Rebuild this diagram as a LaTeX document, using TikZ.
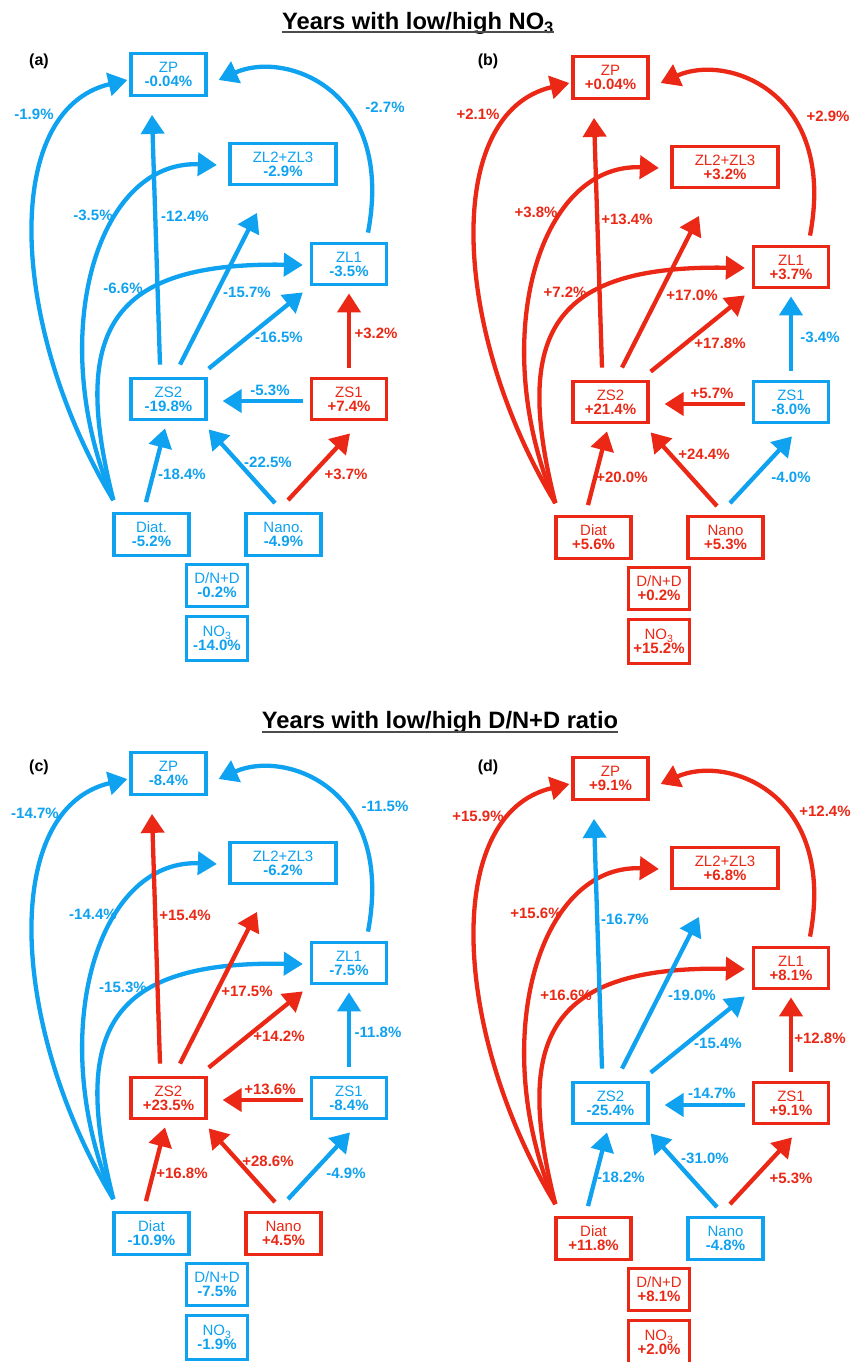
\documentclass[tikz,border=0pt]{standalone}
\usepackage{fontspec}
\setmainfont{Liberation Sans}
\usetikzlibrary{arrows.meta}
\definecolor{cb}{RGB}{14,162,240}
\definecolor{cr}{RGB}{235,40,22}
\tikzset{
  bx/.style={draw=#1, text=#1, line width=3.3pt, align=center, inner sep=0pt,
    minimum height=41.5pt, font=\fontsize{15}{14}\selectfont},
  wbox/.style={minimum width=106pt},
  mbox/.style={minimum width=75pt},
  sbox/.style={minimum width=61pt},
  arr/.style={draw=#1, line width=4.3pt, -{Triangle[length=19pt,width=23pt]}},
  elab/.style={text=#1, inner sep=0pt, font=\fontsize{15}{15}\bfseries\selectfont},
  plab/.style={inner sep=0pt, font=\fontsize{16}{16}\bfseries\selectfont},
  ttl/.style={inner sep=0pt, font=\fontsize{23.7}{24}\bfseries\selectfont},
  uline/.style={line width=1.6pt, draw=black!70},
}
\begin{document}
\begin{tikzpicture}[x=1pt,y=-1pt]
\path[use as bounding box, fill=white] (0,0) rectangle (857,1362);

% headings
\node[ttl, anchor=base] (t1) at (418,29.3) {Years with low/high NO\textsubscript{3}};
\draw[uline] ([yshift=-3pt]t1.base west) -- ([yshift=-3pt]t1.base east);
\node[ttl, anchor=base] (t2) at (440,728.7) {Years with low/high D/N+D ratio};
\draw[uline] ([yshift=-3pt]t2.base west) -- ([yshift=-3pt]t2.base east);

% ---------------- panel (a)
\begin{scope}
\node[plab] (a-tag) at (39,61) {(a)};
\node[bx=cb, mbox] (a-ZP) at (168.5,74.5) {ZP\\\textbf{-0.04\%}};
\node[bx=cb, wbox] (a-ZL23) at (283,164) {ZL2+ZL3\\\textbf{-2.9\%}};
\node[bx=cb, mbox] (a-ZL1) at (349,264) {ZL1\\\textbf{-3.5\%}};
\node[bx=cb, mbox] (a-ZS2) at (168.5,399) {ZS2\\\textbf{-19.8\%}};
\node[bx=cr, mbox] (a-ZS1) at (349,399) {ZS1\\\textbf{+7.4\%}};
\node[bx=cb, mbox] (a-Diat) at (151.5,534.5) {Diat.\\\textbf{-5.2\%}};
\node[bx=cb, mbox] (a-Nano) at (283.5,534.5) {Nano.\\\textbf{-4.9\%}};
\node[bx=cb, sbox] (a-DN) at (217,585.5) {D/N+D\\\textbf{-0.2\%}};
\node[bx=cb, sbox, minimum height=43.5pt] (a-NO) at (217,638.5) {NO\textsubscript{3}\\\textbf{-14.0\%}};
\draw[arr=cb] ([xshift=1pt,yshift=12pt]a-Diat.north west) .. controls +(-103,-170) and +(-128,30) .. ([xshift=-2pt,yshift=-5.5pt]a-ZP.west);
\draw[arr=cb] ([xshift=1pt,yshift=12pt]a-Diat.north west) .. controls +(-68,-160) and +(-122,-5) .. ([xshift=-11.5pt,yshift=-1pt]a-ZL23.west);
\draw[arr=cb] ([xshift=1pt,yshift=12pt]a-Diat.north west) .. controls +(-43,-170) and +(-193,-3) .. ([xshift=-7pt,yshift=-1pt]a-ZL1.west);
\draw[arr=cb] ([xshift=-8.5pt,yshift=12pt]a-ZS2.north) -- ([xshift=-16.5pt,yshift=-18pt]a-ZP.south);
\draw[arr=cb] ([xshift=11.5pt,yshift=12pt]a-ZS2.north) -- ([xshift=-26pt,yshift=-26.5pt]a-ZL23.south);
\draw[arr=cb] ([xshift=1pt,yshift=8pt]a-ZS2.north east) -- ([xshift=-7pt,yshift=-6pt]a-ZL1.south west);
\draw[arr=cb] ([xshift=19pt,yshift=9pt]a-ZL1.north) .. controls +(27,-143) and +(67,-30) .. ([xshift=11pt,yshift=-5.5pt]a-ZP.east);
\draw[arr=cr] ([yshift=9pt]a-ZS1.north) -- ([yshift=-7pt]a-ZL1.south);
\draw[arr=cb] ([xshift=-7pt,yshift=-2pt]a-ZS1.west) -- ([xshift=15pt,yshift=-2pt]a-ZS2.east);
\draw[arr=cb] ([xshift=-5.5pt,yshift=10pt]a-Diat.north) -- ([xshift=-3.5pt,yshift=-7pt]a-ZS2.south);
\draw[arr=cb] ([xshift=-8.5pt,yshift=9pt]a-Nano.north) -- ([xshift=1pt,yshift=-8pt]a-ZS2.south east);
\draw[arr=cr] ([xshift=4.5pt,yshift=12pt]a-Nano.north) -- ([xshift=1pt,yshift=-12pt]a-ZS1.south);
\node[elab=cb] (a-l1) at (34,114) {-1.9\%};
\node[elab=cb] (a-l2) at (93,215) {-3.5\%};
\node[elab=cb] (a-l3) at (123,288) {-6.6\%};
\node[elab=cb] (a-l4) at (185,216) {-12.4\%};
\node[elab=cb] (a-l5) at (247,292) {-15.7\%};
\node[elab=cb] (a-l6) at (279,337) {-16.5\%};
\node[elab=cb] (a-l7) at (385,107) {-2.7\%};
\node[elab=cr] (a-l8) at (376,333) {+3.2\%};
\node[elab=cb] (a-l9) at (270,390) {-5.3\%};
\node[elab=cb] (a-l10) at (182,474) {-18.4\%};
\node[elab=cb] (a-l11) at (268,462) {-22.5\%};
\node[elab=cr] (a-l12) at (346,474) {+3.7\%};
\end{scope}

% ---------------- panel (b)
\begin{scope}[shift={(442,3)}]
\node[plab] (b-tag) at (46,58) {(b)};
\node[bx=cr, mbox] (b-ZP) at (168.5,74.5) {ZP\\\textbf{+0.04\%}};
\node[bx=cr, wbox] (b-ZL23) at (283,164) {ZL2+ZL3\\\textbf{+3.2\%}};
\node[bx=cr, mbox] (b-ZL1) at (349,264) {ZL1\\\textbf{+3.7\%}};
\node[bx=cr, mbox] (b-ZS2) at (168.5,399) {ZS2\\\textbf{+21.4\%}};
\node[bx=cb, mbox] (b-ZS1) at (349,399) {ZS1\\\textbf{-8.0\%}};
\node[bx=cr, mbox] (b-Diat) at (151.5,534.5) {Diat\\\textbf{+5.6\%}};
\node[bx=cr, mbox] (b-Nano) at (283.5,534.5) {Nano\\\textbf{+5.3\%}};
\node[bx=cr, sbox] (b-DN) at (217,585.5) {D/N+D\\\textbf{+0.2\%}};
\node[bx=cr, sbox, minimum height=43.5pt] (b-NO) at (217,638.5) {NO\textsubscript{3}\\\textbf{+15.2\%}};
\draw[arr=cr] ([xshift=1pt,yshift=12pt]b-Diat.north west) .. controls +(-103,-170) and +(-128,30) .. ([xshift=-2pt,yshift=-5.5pt]b-ZP.west);
\draw[arr=cr] ([xshift=1pt,yshift=12pt]b-Diat.north west) .. controls +(-68,-160) and +(-122,-5) .. ([xshift=-11.5pt,yshift=-1pt]b-ZL23.west);
\draw[arr=cr] ([xshift=1pt,yshift=12pt]b-Diat.north west) .. controls +(-43,-170) and +(-193,-3) .. ([xshift=-7pt,yshift=-1pt]b-ZL1.west);
\draw[arr=cr] ([xshift=-8.5pt,yshift=12pt]b-ZS2.north) -- ([xshift=-16.5pt,yshift=-18pt]b-ZP.south);
\draw[arr=cr] ([xshift=11.5pt,yshift=12pt]b-ZS2.north) -- ([xshift=-26pt,yshift=-26.5pt]b-ZL23.south);
\draw[arr=cr] ([xshift=1pt,yshift=8pt]b-ZS2.north east) -- ([xshift=-7pt,yshift=-6pt]b-ZL1.south west);
\draw[arr=cr] ([xshift=19pt,yshift=9pt]b-ZL1.north) .. controls +(27,-143) and +(67,-30) .. ([xshift=11pt,yshift=-5.5pt]b-ZP.east);
\draw[arr=cb] ([yshift=9pt]b-ZS1.north) -- ([yshift=-7pt]b-ZL1.south);
\draw[arr=cr] ([xshift=-7pt,yshift=-2pt]b-ZS1.west) -- ([xshift=15pt,yshift=-2pt]b-ZS2.east);
\draw[arr=cr] ([xshift=-5.5pt,yshift=10pt]b-Diat.north) -- ([xshift=-3.5pt,yshift=-7pt]b-ZS2.south);
\draw[arr=cr] ([xshift=-8.5pt,yshift=9pt]b-Nano.north) -- ([xshift=1pt,yshift=-8pt]b-ZS2.south east);
\draw[arr=cb] ([xshift=4.5pt,yshift=12pt]b-Nano.north) -- ([xshift=1pt,yshift=-12pt]b-ZS1.south);
\node[elab=cr] (b-l1) at (36,111) {+2.1\%};
\node[elab=cr] (b-l2) at (94,209) {+3.8\%};
\node[elab=cr] (b-l3) at (123,289) {+7.2\%};
\node[elab=cr] (b-l4) at (185,216) {+13.4\%};
\node[elab=cr] (b-l5) at (250,292) {+17.0\%};
\node[elab=cr] (b-l6) at (278,340) {+17.8\%};
\node[elab=cr] (b-l7) at (386,113) {+2.9\%};
\node[elab=cb] (b-l8) at (378,334) {-3.4\%};
\node[elab=cr] (b-l9) at (270,390) {+5.7\%};
\node[elab=cr] (b-l10) at (180,474) {+20.0\%};
\node[elab=cr] (b-l11) at (262,451) {+24.4\%};
\node[elab=cb] (b-l12) at (349,474) {-4.0\%};
\end{scope}

% ---------------- panel (c)
\begin{scope}[shift={(0,699)}]
\node[plab] (c-tag) at (39,68) {(c)};
\node[bx=cb, mbox] (c-ZP) at (168.5,74.5) {ZP\\\textbf{-8.4\%}};
\node[bx=cb, wbox] (c-ZL23) at (283,164) {ZL2+ZL3\\\textbf{-6.2\%}};
\node[bx=cb, mbox] (c-ZL1) at (349,264) {ZL1\\\textbf{-7.5\%}};
\node[bx=cr, mbox] (c-ZS2) at (168.5,399) {ZS2\\\textbf{+23.5\%}};
\node[bx=cb, mbox] (c-ZS1) at (349,399) {ZS1\\\textbf{-8.4\%}};
\node[bx=cb, mbox] (c-Diat) at (151.5,534.5) {Diat\\\textbf{-10.9\%}};
\node[bx=cr, mbox] (c-Nano) at (283.5,534.5) {Nano\\\textbf{+4.5\%}};
\node[bx=cb, sbox] (c-DN) at (217,585.5) {D/N+D\\\textbf{-7.5\%}};
\node[bx=cb, sbox, minimum height=43.5pt] (c-NO) at (217,638.5) {NO\textsubscript{3}\\\textbf{-1.9\%}};
\draw[arr=cb] ([xshift=1pt,yshift=12pt]c-Diat.north west) .. controls +(-103,-170) and +(-128,30) .. ([xshift=-2pt,yshift=-5.5pt]c-ZP.west);
\draw[arr=cb] ([xshift=1pt,yshift=12pt]c-Diat.north west) .. controls +(-68,-160) and +(-122,-5) .. ([xshift=-11.5pt,yshift=-1pt]c-ZL23.west);
\draw[arr=cb] ([xshift=1pt,yshift=12pt]c-Diat.north west) .. controls +(-43,-170) and +(-193,-3) .. ([xshift=-7pt,yshift=-1pt]c-ZL1.west);
\draw[arr=cr] ([xshift=-8.5pt,yshift=12pt]c-ZS2.north) -- ([xshift=-16.5pt,yshift=-18pt]c-ZP.south);
\draw[arr=cr] ([xshift=11.5pt,yshift=12pt]c-ZS2.north) -- ([xshift=-26pt,yshift=-26.5pt]c-ZL23.south);
\draw[arr=cr] ([xshift=1pt,yshift=8pt]c-ZS2.north east) -- ([xshift=-7pt,yshift=-6pt]c-ZL1.south west);
\draw[arr=cb] ([xshift=19pt,yshift=9pt]c-ZL1.north) .. controls +(27,-143) and +(67,-30) .. ([xshift=11pt,yshift=-5.5pt]c-ZP.east);
\draw[arr=cb] ([yshift=9pt]c-ZS1.north) -- ([yshift=-7pt]c-ZL1.south);
\draw[arr=cr] ([xshift=-7pt,yshift=-2pt]c-ZS1.west) -- ([xshift=15pt,yshift=-2pt]c-ZS2.east);
\draw[arr=cr] ([xshift=-5.5pt,yshift=10pt]c-Diat.north) -- ([xshift=-3.5pt,yshift=-7pt]c-ZS2.south);
\draw[arr=cr] ([xshift=-8.5pt,yshift=9pt]c-Nano.north) -- ([xshift=1pt,yshift=-8pt]c-ZS2.south east);
\draw[arr=cb] ([xshift=4.5pt,yshift=12pt]c-Nano.north) -- ([xshift=1pt,yshift=-12pt]c-ZS1.south);
\node[elab=cb] (c-l1) at (35,114) {-14.7\%};
\node[elab=cb] (c-l2) at (93,215) {-14.4\%};
\node[elab=cb] (c-l3) at (123,288) {-15.3\%};
\node[elab=cr] (c-l4) at (185,216) {+15.4\%};
\node[elab=cr] (c-l5) at (247,292) {+17.5\%};
\node[elab=cr] (c-l6) at (279,337) {+14.2\%};
\node[elab=cb] (c-l7) at (385,107) {-11.5\%};
\node[elab=cb] (c-l8) at (378,333) {-11.8\%};
\node[elab=cr] (c-l9) at (270,390) {+13.6\%};
\node[elab=cr] (c-l10) at (182,474) {+16.8\%};
\node[elab=cr] (c-l11) at (268,462) {+28.6\%};
\node[elab=cb] (c-l12) at (346,474) {-4.9\%};
\end{scope}

% ---------------- panel (d)
\begin{scope}[shift={(442,704)}]
\node[plab] (d-tag) at (46,63) {(d)};
\node[bx=cr, mbox] (d-ZP) at (168.5,74.5) {ZP\\\textbf{+9.1\%}};
\node[bx=cr, wbox] (d-ZL23) at (283,164) {ZL2+ZL3\\\textbf{+6.8\%}};
\node[bx=cr, mbox] (d-ZL1) at (349,264) {ZL1\\\textbf{+8.1\%}};
\node[bx=cb, mbox] (d-ZS2) at (168.5,399) {ZS2\\\textbf{-25.4\%}};
\node[bx=cr, mbox] (d-ZS1) at (349,399) {ZS1\\\textbf{+9.1\%}};
\node[bx=cr, mbox] (d-Diat) at (151.5,534.5) {Diat\\\textbf{+11.8\%}};
\node[bx=cb, mbox] (d-Nano) at (283.5,534.5) {Nano\\\textbf{-4.8\%}};
\node[bx=cr, sbox] (d-DN) at (217,585.5) {D/N+D\\\textbf{+8.1\%}};
\node[bx=cr, sbox, minimum height=43.5pt] (d-NO) at (217,638.5) {NO\textsubscript{3}\\\textbf{+2.0\%}};
\draw[arr=cr] ([xshift=1pt,yshift=12pt]d-Diat.north west) .. controls +(-103,-170) and +(-128,30) .. ([xshift=-2pt,yshift=-5.5pt]d-ZP.west);
\draw[arr=cr] ([xshift=1pt,yshift=12pt]d-Diat.north west) .. controls +(-68,-160) and +(-122,-5) .. ([xshift=-11.5pt,yshift=-1pt]d-ZL23.west);
\draw[arr=cr] ([xshift=1pt,yshift=12pt]d-Diat.north west) .. controls +(-43,-170) and +(-193,-3) .. ([xshift=-7pt,yshift=-1pt]d-ZL1.west);
\draw[arr=cb] ([xshift=-8.5pt,yshift=12pt]d-ZS2.north) -- ([xshift=-16.5pt,yshift=-18pt]d-ZP.south);
\draw[arr=cb] ([xshift=11.5pt,yshift=12pt]d-ZS2.north) -- ([xshift=-26pt,yshift=-26.5pt]d-ZL23.south);
\draw[arr=cb] ([xshift=1pt,yshift=8pt]d-ZS2.north east) -- ([xshift=-7pt,yshift=-6pt]d-ZL1.south west);
\draw[arr=cr] ([xshift=19pt,yshift=9pt]d-ZL1.north) .. controls +(27,-143) and +(67,-30) .. ([xshift=11pt,yshift=-5.5pt]d-ZP.east);
\draw[arr=cr] ([yshift=9pt]d-ZS1.north) -- ([yshift=-7pt]d-ZL1.south);
\draw[arr=cb] ([xshift=-7pt,yshift=-2pt]d-ZS1.west) -- ([xshift=15pt,yshift=-2pt]d-ZS2.east);
\draw[arr=cb] ([xshift=-5.5pt,yshift=10pt]d-Diat.north) -- ([xshift=-3.5pt,yshift=-7pt]d-ZS2.south);
\draw[arr=cb] ([xshift=-8.5pt,yshift=9pt]d-Nano.north) -- ([xshift=1pt,yshift=-8pt]d-ZS2.south east);
\draw[arr=cr] ([xshift=4.5pt,yshift=12pt]d-Nano.north) -- ([xshift=1pt,yshift=-12pt]d-ZS1.south);
\node[elab=cr] (d-l1) at (36,112) {+15.9\%};
\node[elab=cr] (d-l2) at (94,209) {+15.6\%};
\node[elab=cr] (d-l3) at (124,291) {+16.6\%};
\node[elab=cb] (d-l4) at (183,215) {-16.7\%};
\node[elab=cb] (d-l5) at (250,291) {-19.0\%};
\node[elab=cb] (d-l6) at (276,339) {-15.4\%};
\node[elab=cr] (d-l7) at (383,107) {+12.4\%};
\node[elab=cr] (d-l8) at (378,334) {+12.8\%};
\node[elab=cb] (d-l9) at (270,389) {-14.7\%};
\node[elab=cb] (d-l10) at (179,473) {-18.2\%};
\node[elab=cb] (d-l11) at (263,454) {-31.0\%};
\node[elab=cr] (d-l12) at (349,474) {+5.3\%};
\end{scope}
\end{tikzpicture}
\end{document}
